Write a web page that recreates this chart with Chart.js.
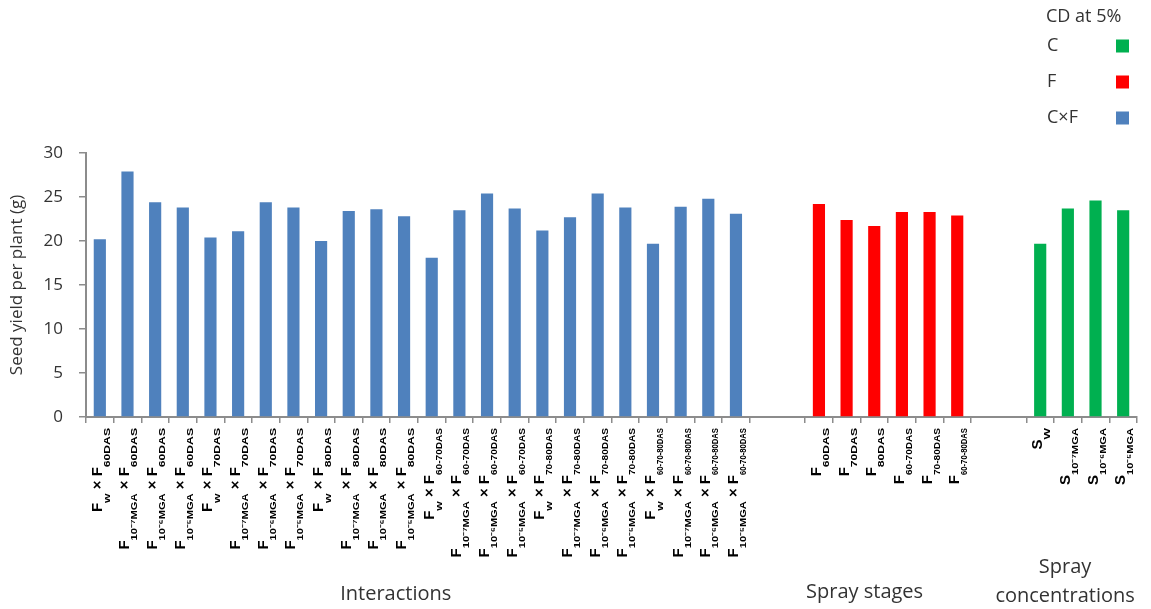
<!DOCTYPE html>
<html>
<head>
<meta charset="utf-8">
<title>Seed yield per plant</title>
<script src="https://cdn.jsdelivr.net/npm/chart.js"></script>
<style>
  body { margin: 0; background: #fff; }
  #wrap { position: relative; width: 1151px; height: 609px; }
</style>
</head>
<body>
<div id="wrap"><canvas id="myChart"></canvas></div>
<script>
// text in {...} is drawn as a subscript
const interactionLabels = [
  'F{w} × F{60DAS}', 'F{10⁻⁷MGA} × F{60DAS}', 'F{10⁻⁶MGA} × F{60DAS}', 'F{10⁻⁵MGA} × F{60DAS}',
  'F{w} × F{70DAS}', 'F{10⁻⁷MGA} × F{70DAS}', 'F{10⁻⁶MGA} × F{70DAS}', 'F{10⁻⁵MGA} × F{70DAS}',
  'F{w} × F{80DAS}', 'F{10⁻⁷MGA} × F{80DAS}', 'F{10⁻⁶MGA} × F{80DAS}', 'F{10⁻⁵MGA} × F{80DAS}',
  'F{w} × F{60-70DAS}', 'F{10⁻⁷MGA} × F{60-70DAS}', 'F{10⁻⁶MGA} × F{60-70DAS}', 'F{10⁻⁵MGA} × F{60-70DAS}',
  'F{w} × F{70-80DAS}', 'F{10⁻⁷MGA} × F{70-80DAS}', 'F{10⁻⁶MGA} × F{70-80DAS}', 'F{10⁻⁵MGA} × F{70-80DAS}',
  'F{w} × F{60-70-80DAS}', 'F{10⁻⁷MGA} × F{60-70-80DAS}', 'F{10⁻⁶MGA} × F{60-70-80DAS}', 'F{10⁻⁵MGA} × F{60-70-80DAS}'
];
const interactionYield = [20.2, 27.9, 24.4, 23.8, 20.4, 21.1, 24.4, 23.8, 20.0, 23.4, 23.6, 22.8,
  18.1, 23.5, 25.4, 23.7, 21.2, 22.7, 25.4, 23.8, 19.7, 23.9, 24.8, 23.1];

const stageLabels = ['F{60DAS}', 'F{70DAS}', 'F{80DAS}', 'F{60-70DAS}', 'F{70-80DAS}', 'F{60-70-80DAS}'];
const stageYield = [24.2, 22.4, 21.7, 23.3, 23.3, 22.9];

const concLabels = ['S{W}', 'S{10⁻⁷MGA}', 'S{10⁻⁶MGA}', 'S{10⁻⁵MGA}'];
const concYield = [19.7, 23.7, 24.6, 23.5];

const groupNames = [['Interactions'], ['Spray stages'], ['Spray', 'concentrations']];
const legendTitle = 'CD at 5%';
const legendNames = ['C', 'F', 'C×F'];
const yTitle = 'Seed yield per plant (g)';

window.addEventListener('load', setup);

const FONT = "'Open Sans', 'Noto Sans', sans-serif";
const AXIS = '#8c8c8c';
const TEXT = '#333';
const MAIN_FONT = "bold 15px 'Liberation Sans', sans-serif";
const SUB_FONT = "bold 9px 'Liberation Sans', sans-serif";

function blanks(n) {
  return new Array(n).fill(null);
}

function parseLabel(s) {
  const out = [];
  const re = /([^{}]+)|\{([^}]*)\}/g;
  let m;
  while ((m = re.exec(s)) !== null) {
    if (m[1] !== undefined) out.push({ text: m[1], sub: false });
    else out.push({ text: m[2], sub: true });
  }
  return out;
}

// rotated category labels with subscripts
const xLabelPlugin = {
  id: 'xLabels',
  afterDraw(chart) {
    const { ctx } = chart;
    const x = chart.scales.x;
    const top = x.top + 11;
    ctx.save();
    ctx.fillStyle = '#000';
    ctx.textBaseline = 'alphabetic';
    chart.data.labels.forEach((lab, i) => {
      if (!lab) return;
      const segs = parseLabel(lab);
      let total = 0;
      segs.forEach(sg => {
        ctx.font = sg.sub ? SUB_FONT : MAIN_FONT;
        const w = ctx.measureText(sg.text).width;
        // subscripts are stretched, but long ones squeezed to a common length
        sg.k = sg.sub ? Math.min(1.35, 47 / w) : 1;
        sg.w = w * sg.k;
        total += sg.w;
      });
      ctx.save();
      ctx.translate(x.getPixelForValue(i), top);
      ctx.rotate(-Math.PI / 2);
      let pos = -total;
      segs.forEach(sg => {
        ctx.font = sg.sub ? SUB_FONT : MAIN_FONT;
        if (sg.sub) {
          ctx.save();
          ctx.translate(pos, 10);
          ctx.scale(sg.k, 1);
          ctx.fillText(sg.text, 0, 0);
          ctx.restore();
        } else {
          ctx.fillText(sg.text, pos, 2);
        }
        pos += sg.w;
      });
      ctx.restore();
    });

    // group names under the label blocks
    const centers = [10.7, 27.65, 34.9];
    const rows = [[594], [592], [567, 596]];
    ctx.fillStyle = TEXT;
    ctx.font = '20px ' + FONT;
    ctx.textAlign = 'center';
    ctx.textBaseline = 'middle';
    groupNames.forEach((lines, g) => {
      const cx = x.getPixelForValue(centers[g]);
      lines.forEach((t, k) => ctx.fillText(t, cx, rows[g][k]));
    });
    ctx.restore();
  }
};

// "CD at 5%" key in the top right corner
const keyPlugin = {
  id: 'cdKey',
  afterDraw(chart) {
    const { ctx } = chart;
    ctx.save();
    ctx.font = '18px ' + FONT;
    ctx.fillStyle = TEXT;
    ctx.textBaseline = 'middle';
    ctx.textAlign = 'left';
    ctx.fillText(legendTitle, 1046, 17);
    legendNames.forEach((name, k) => {
      const y = 46 + k * 36;
      const ds = chart.data.datasets.find(d => d.label === name);
      ctx.fillStyle = TEXT;
      ctx.fillText(name, 1047, y);
      ctx.fillStyle = ds.backgroundColor;
      ctx.fillRect(1116, y - 6.5, 13, 13);
    });
    ctx.restore();
  }
};

function setup() {
  const labels = [...interactionLabels, '', '', ...stageLabels, '', '', ...concLabels];
  const nI = interactionLabels.length;
  const nS = stageLabels.length;
  const nC = concLabels.length;
  const hiddenTicks = [nI + 1, nI + 2 + nS + 1];

  const ctx = document.getElementById('myChart').getContext('2d');
  const myChart = new Chart(ctx, {
    type: 'bar',
    data: {
      labels: labels,
      datasets: [
        {
          label: 'C×F',
          data: [...interactionYield, ...blanks(labels.length - nI)],
          backgroundColor: '#4f81bd'
        },
        {
          label: 'F',
          data: [...blanks(nI + 2), ...stageYield, ...blanks(2 + nC)],
          backgroundColor: '#ff0000'
        },
        {
          label: 'C',
          data: [...blanks(nI + 2 + nS + 2), ...concYield],
          backgroundColor: '#00b050'
        }
      ]
    },
    options: {
      responsive: true,
      maintainAspectRatio: false,
      animation: false,
      layout: { padding: { top: 153, right: 14, left: 0, bottom: 0 } },
      datasets: { bar: { grouped: false, barPercentage: 0.44, categoryPercentage: 1 } },
      plugins: { legend: { display: false }, tooltip: { enabled: false } },
      scales: {
        x: {
          ticks: { display: false, autoSkip: false },
          grid: {
            offset: true,
            drawOnChartArea: false,
            tickLength: 6,
            lineWidth: 1.5,
            color: c => hiddenTicks.includes(c.index) ? 'rgba(0,0,0,0)' : AXIS
          },
          border: { color: AXIS, width: 2 },
          afterFit: s => { s.height = 192; }
        },
        y: {
          min: 0,
          max: 30,
          ticks: { stepSize: 5, padding: 16, color: TEXT, font: { family: FONT, size: 17 } },
          grid: { drawOnChartArea: false, tickLength: 7, lineWidth: 1.5, color: AXIS },
          border: { color: AXIS, width: 2 },
          title: {
            display: true,
            text: yTitle,
            color: TEXT,
            font: { family: FONT, size: 17 },
            padding: { top: 7, bottom: 0 }
          },
          afterFit: s => { s.width = 86; }
        }
      }
    },
    plugins: [xLabelPlugin, keyPlugin]
  });
}
</script>
</body>
</html>
